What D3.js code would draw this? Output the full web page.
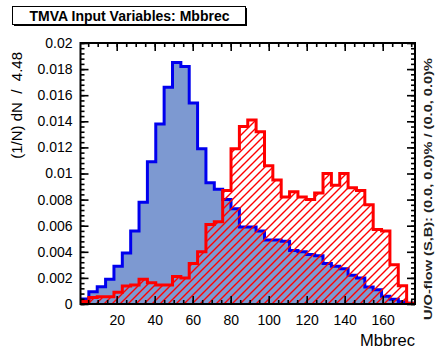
<!DOCTYPE html>
<html>
<head>
<meta charset="utf-8">
<script src="https://cdn.jsdelivr.net/npm/d3@7"></script>
<style>
  html, body { margin: 0; padding: 0; background: #fff; }
  svg { display: block; font-family: "Liberation Sans", Arial, Helvetica, sans-serif; }
</style>
</head>
<body>
<svg id="chart" width="437" height="351"></svg>
<script>
// Normalised Mbbrec distributions, 40 equal bins
const xRange = [0.95, 177.0];
const nBins = 40;
const signal = [
  0.00038, 0.00094, 0.00133, 0.0019, 0.0029, 0.0039, 0.0056, 0.0078, 0.0109, 0.0138,
  0.0166, 0.0185, 0.0182, 0.0154, 0.0119, 0.0093, 0.0088, 0.0080, 0.0073, 0.0059,
  0.0059, 0.0056, 0.0049, 0.0049, 0.0048, 0.0041, 0.0040, 0.0038, 0.0037, 0.0031,
  0.0029, 0.0027, 0.0022, 0.0020, 0.0013, 0.0011, 0.0006, 0.00036, 0.00018, 0.00005
];
const background = [
  0.0002, 0.0005, 0.00056, 0.00056, 0.0009, 0.00138, 0.00146, 0.0019, 0.00163, 0.00146,
  0.00146, 0.0021, 0.0020, 0.0031, 0.0040, 0.0061, 0.0063, 0.0087, 0.0119, 0.0136,
  0.0141, 0.0132, 0.0106, 0.0095, 0.0082, 0.0086, 0.0082, 0.0080, 0.0085, 0.0100,
  0.0091, 0.0100, 0.0089, 0.0087, 0.0076, 0.0057, 0.0056, 0.0030, 0.0014, 0.00005
];
const xTicks = [20, 40, 60, 80, 100, 120, 140, 160];
const yTicks = [0, 0.002, 0.004, 0.006, 0.008, 0.01, 0.012, 0.014, 0.016, 0.018, 0.02];
const yMax = 0.02;

const titleText = "TMVA Input Variables: Mbbrec";
const xTitle = "Mbbrec";
const yTitle = "(1/N) dN  /  4.48";
const flowText = "U/O-flow (S,B): (0.0, 0.0)% / (0.0, 0.0)%";

const svg = d3.select("#chart");
const frame = { left: 80.5, right: 415, top: 43, bottom: 304 };

const x = d3.scaleLinear().domain(xRange).range([frame.left, frame.right]);
const y = d3.scaleLinear().domain([0, yMax]).range([frame.bottom, frame.top]);

const binW = (xRange[1] - xRange[0]) / nBins;
const edges = d3.range(nBins + 1).map(i => xRange[0] + i * binW);

// step outline from bin values, closed down to zero at both ends
function stepPoints(vals) {
  const pts = [[edges[0], 0]];
  vals.forEach((v, i) => { pts.push([edges[i], v]); pts.push([edges[i + 1], v]); });
  pts.push([edges[nBins], 0]);
  return pts;
}
const line = d3.line().x(d => x(d[0])).y(d => y(d[1]));

const defs = svg.append("defs");
const hatch = defs.append("pattern")
  .attr("id", "hatch")
  .attr("patternUnits", "userSpaceOnUse")
  .attr("width", 8).attr("height", 8);
hatch.append("path")
  .attr("d", "M-2,2 L2,-2 M0,8 L8,0 M6,10 L10,6")
  .attr("stroke", "#ff0000").attr("stroke-width", 1.4).attr("fill", "none");

defs.append("clipPath").attr("id", "plotclip").append("rect")
  .attr("x", frame.left).attr("y", frame.top)
  .attr("width", frame.right - frame.left).attr("height", frame.bottom - frame.top);

const plot = svg.append("g").attr("clip-path", "url(#plotclip)");

// signal: filled blue
plot.append("path").attr("d", line(stepPoints(signal)) + "Z")
  .attr("fill", "#7d99d1").attr("stroke", "none");
plot.append("path").attr("d", line(stepPoints(signal)))
  .attr("fill", "none").attr("stroke", "#0000ee").attr("stroke-width", 3)
  .attr("stroke-linejoin", "miter");

// background: red hatched
plot.append("path").attr("d", line(stepPoints(background)) + "Z")
  .attr("fill", "url(#hatch)").attr("stroke", "none");
plot.append("path").attr("d", line(stepPoints(background)))
  .attr("fill", "none").attr("stroke", "#ff0000").attr("stroke-width", 3)
  .attr("stroke-linejoin", "miter");

// axes with inward ticks on all four sides
const xMinor = d3.range(5, 177, 5);
const yMinor = d3.range(0, yMax + 1e-9, 0.0004);
const fmtY = v => String(+v.toFixed(3));

function styleAxis(g) {
  g.select(".domain").remove();
  g.selectAll(".tick line").attr("stroke", "#000").attr("stroke-width", 1.6);
  g.selectAll("text").attr("fill", "#000").attr("font-size", 14)
    .attr("font-family", "Liberation Sans, Arial, sans-serif");
}

svg.append("g").attr("transform", `translate(0,${frame.bottom})`)
  .call(d3.axisBottom(x).tickValues(xMinor).tickFormat("").tickSize(-4)).call(styleAxis);
svg.append("g").attr("transform", `translate(0,${frame.bottom})`)
  .call(d3.axisBottom(x).tickValues(xTicks).tickSize(-8).tickPadding(8)).call(styleAxis)
  .selectAll("text").attr("dy", "0.9em");
svg.append("g").attr("transform", `translate(0,${frame.top})`)
  .call(d3.axisTop(x).tickValues(xMinor).tickFormat("").tickSize(-4)).call(styleAxis);
svg.append("g").attr("transform", `translate(0,${frame.top})`)
  .call(d3.axisTop(x).tickValues(xTicks).tickFormat("").tickSize(-8)).call(styleAxis);

svg.append("g").attr("transform", `translate(${frame.left},0)`)
  .call(d3.axisLeft(y).tickValues(yMinor).tickFormat("").tickSize(-4)).call(styleAxis);
svg.append("g").attr("transform", `translate(${frame.left},0)`)
  .call(d3.axisLeft(y).tickValues(yTicks).tickFormat(fmtY).tickSize(-8).tickPadding(8)).call(styleAxis);
svg.append("g").attr("transform", `translate(${frame.right},0)`)
  .call(d3.axisRight(y).tickValues(yMinor).tickFormat("").tickSize(-4)).call(styleAxis);
svg.append("g").attr("transform", `translate(${frame.right},0)`)
  .call(d3.axisRight(y).tickValues(yTicks).tickFormat("").tickSize(-8)).call(styleAxis);

// frame
svg.append("rect")
  .attr("x", frame.left).attr("y", frame.top)
  .attr("width", frame.right - frame.left).attr("height", frame.bottom - frame.top)
  .attr("fill", "none").attr("stroke", "#000").attr("stroke-width", 2);

// axis titles
svg.append("text")
  .attr("x", frame.right).attr("y", 346)
  .attr("text-anchor", "end").attr("font-size", 16.5)
  .text(xTitle);
svg.append("text")
  .attr("transform", `translate(22,${frame.top + 9}) rotate(-90)`)
  .attr("text-anchor", "end").attr("font-size", 15)
  .attr("xml:space", "preserve").style("white-space", "pre")
  .text(yTitle);

// under/overflow note
svg.append("text")
  .attr("transform", `translate(432,320) rotate(-90)`)
  .attr("text-anchor", "start").attr("font-size", 10.5).attr("font-weight", "bold")
  .attr("textLength", 262).attr("lengthAdjust", "spacingAndGlyphs")
  .attr("fill", "#222")
  .text(flowText);

// title box with shadow
svg.append("rect").attr("x", 14).attr("y", 8).attr("width", 233).attr("height", 18)
  .attr("fill", "#000");
svg.append("rect").attr("x", 12.5).attr("y", 6.5).attr("width", 233).attr("height", 18)
  .attr("fill", "#fff").attr("stroke", "#000").attr("stroke-width", 1);
svg.append("text")
  .attr("x", 129.5).attr("y", 21).attr("text-anchor", "middle")
  .attr("font-size", 14).attr("font-weight", "bold")
  .text(titleText);
</script>
</body>
</html>
